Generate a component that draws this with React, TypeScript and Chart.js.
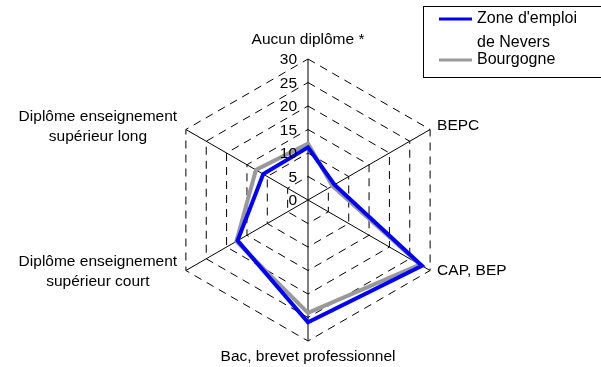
import React, { useEffect, useRef } from "react";
import { Chart, registerables } from "chart.js";

Chart.register(...registerables);

const categories = [
  ["Aucun diplôme *"],
  ["BEPC"],
  ["CAP, BEP"],
  ["Bac, brevet professionnel"],
  ["Diplôme enseignement", "supérieur court"],
  ["Diplôme enseignement", "supérieur long"],
];
const seriesNames = [["Zone d'emploi", "de Nevers"], ["Bourgogne"]];
const neversValues = [11.2, 6.5, 28, 26, 17.3, 11];
const bourgogneValues = [12, 6, 27.5, 24, 17.6, 12.8];
const tickValues = [0, 5, 10, 15, 20, 25, 30];

const FONT = "15.5px 'Liberation Sans', Arial, sans-serif";

const labelsPlugin = {
  id: "customLabels",
  afterDraw(chart: any) {
    const ctx = chart.ctx;
    const scale = chart.scales.r;
    ctx.save();
    ctx.fillStyle = "#000";
    ctx.font = FONT;
    ctx.textBaseline = "middle";
    // ticks
    ctx.textAlign = "right";
    tickValues.forEach((v) => {
      const d = scale.getDistanceFromCenterForValue(v);
      ctx.fillText(String(v), scale.xCenter - 11, scale.yCenter - d + 1);
    });
    // point labels
    const offsets = [
      { dx: 0, dy: -19, align: "center" },
      { dx: 7, dy: -3.5, align: "left" },
      { dx: 7, dy: 0.5, align: "left" },
      { dx: 0, dy: 16, align: "center" },
      { dx: -88, dy: -8.5, align: "center" },
      { dx: -88, dy: -12.5, align: "center" },
    ];
    categories.forEach((lines, i) => {
      const p = scale.getPointPosition(i, scale.drawingArea);
      const o = offsets[i];
      ctx.textAlign = o.align;
      lines.forEach((t, j) => {
        ctx.fillText(t, p.x + o.dx, p.y + o.dy + j * 20);
      });
    });
    // legend
    ctx.strokeStyle = "#000";
    ctx.lineWidth = 1;
    ctx.strokeRect(423.5, 6.5, 200, 71);
    ctx.font = "16px 'Liberation Sans', Arial, sans-serif";
    ctx.textAlign = "left";
    const rows = [19, 60];
    chart.data.datasets.forEach((ds: any, i: number) => {
      ctx.strokeStyle = ds.borderColor;
      ctx.lineWidth = 3;
      ctx.beginPath();
      ctx.moveTo(439, rows[i]);
      ctx.lineTo(472, rows[i]);
      ctx.stroke();
      seriesNames[i].forEach((t, j) => {
        ctx.fillText(t, 477, rows[i] + j * 24);
      });
    });
    ctx.restore();
  },
};

export default function App() {
  const ref = useRef<HTMLCanvasElement>(null);
  useEffect(() => {
    const chart = new Chart(ref.current!, {
      type: "radar",
      data: {
        labels: categories.map((c) => c.join(" ")),
        datasets: [
          {
            label: seriesNames[0].join(" "),
            data: neversValues,
            borderColor: "#0000FF",
            borderWidth: 4,
            pointRadius: 0,
            fill: false,
            tension: 0,
          },
          {
            label: seriesNames[1].join(" "),
            data: bourgogneValues,
            borderColor: "#999999",
            borderWidth: 4,
            pointRadius: 0,
            fill: false,
            tension: 0,
          },
        ],
      },
      options: {
        animation: false,
        responsive: false,
        maintainAspectRatio: false,
        layout: { padding: { left: 167, right: 152, top: 59, bottom: 26 } },
        plugins: { legend: { display: false }, tooltip: { enabled: false } },
        scales: {
          r: {
            min: 0,
            max: 30,
            ticks: { display: false, stepSize: 5 },
            pointLabels: { display: false },
            grid: { color: "#000", lineWidth: 1 },
            border: { dash: [8, 6] },
            angleLines: { color: "#000", lineWidth: 1 },
          },
        },
      },
      plugins: [labelsPlugin],
    });
    return () => chart.destroy();
  }, []);
  return (
    <div style={{ position: "absolute", left: 0, top: 0, width: 601, height: 367, background: "#fff" }}>
      <canvas ref={ref} width={601} height={367} />
    </div>
  );
}
